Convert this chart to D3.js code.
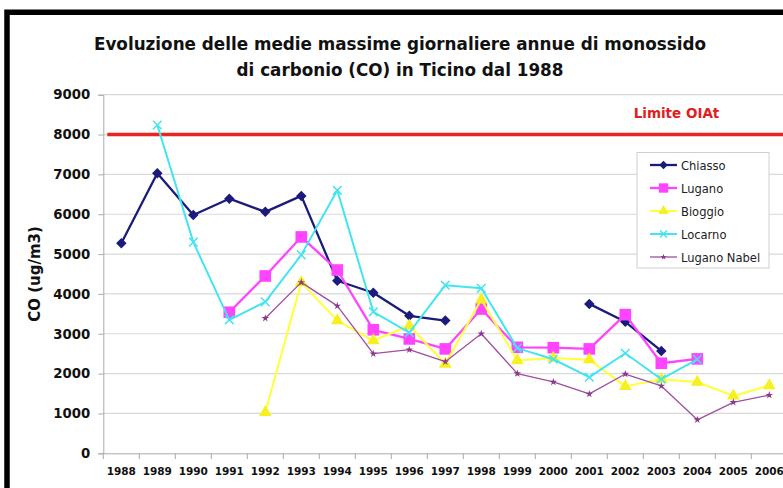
<!DOCTYPE html>
<html><head><meta charset="utf-8">
<script src="https://cdn.jsdelivr.net/npm/d3@7"></script>
<style>body{margin:0;background:#fff}svg{display:block}</style>
</head><body>
<script>
const years = [1988,1989,1990,1991,1992,1993,1994,1995,1996,1997,1998,1999,2000,2001,2002,2003,2004,2005,2006];
const chiasso     = [5270,7030,5980,6390,6060,6460,4330,4030,3450,3330,null,null,null,3750,3300,2570,null,null,null];
const lugano      = [null,null,null,3540,4450,5430,4600,3100,2870,2620,3620,2660,2650,2620,3480,2260,2370,null,null];
const bioggio     = [null,null,null,null,1030,4290,3330,2830,3200,2240,3860,2330,2390,2350,1680,1860,1790,1440,1700];
const locarno     = [null,8240,5300,3350,3800,4980,6600,3550,3030,4220,4140,2640,2360,1910,2510,1860,2360,null,null];
const luganoNabel = [null,null,null,null,3390,4290,3700,2500,2600,2300,3000,2000,1790,1490,1990,1690,840,1280,1460];
const yTicks = [0,1000,2000,3000,4000,5000,6000,7000,8000,9000];
const limite = 8000;
const titleLines = ["Evoluzione delle medie massime giornaliere annue di monossido","di carbonio (CO) in Ticino dal 1988"];

const W=783,H=488;
const svg=d3.select("body").append("svg").attr("width",W).attr("height",H);
const font="'DejaVu Sans', sans-serif";
const fontC="'DejaVu Sans Condensed', 'DejaVu Sans', sans-serif";

const x=d3.scaleBand().domain(years).range([103.3,787.3]).padding(0);
const y=d3.scaleLinear().domain([0,9000]).range([453.3,94.7]);
const cx=d=>x(d)+x.bandwidth()/2;

// frame
svg.append("path").attr("d",`M7,${H+5}V12.3H${W+5}`).attr("fill","none").attr("stroke","#000").attr("stroke-width",5.5);

// title
svg.append("g").selectAll("text").data(titleLines).join("text")
  .attr("x",400).attr("y",(d,i)=>50+i*26).attr("text-anchor","middle")
  .attr("font-family",font).attr("font-weight","bold").attr("font-size",16.8).attr("fill","#111")
  .text(d=>d);

// gridlines
svg.append("g").selectAll("line").data(yTicks.filter(d=>d>0)).join("line")
  .attr("x1",103.3).attr("x2",W).attr("y1",d=>y(d)).attr("y2",d=>y(d))
  .attr("stroke","#d9d9d9").attr("stroke-width",1.2);

// y axis
const ya=svg.append("g").attr("transform","translate(103.3,0)").call(d3.axisLeft(y).tickValues(yTicks).tickSize(5).tickPadding(8).tickFormat(d3.format("d")));
ya.select(".domain").attr("stroke","#aaa");
ya.selectAll(".tick line").attr("stroke","#aaa");
ya.selectAll("text").attr("font-family",font).attr("font-weight","bold").attr("font-size",13.3).attr("fill","#111");

// x axis
const xa=svg.append("g").attr("transform","translate(0,453.3)").call(d3.axisBottom(x).tickSize(0).tickPadding(14));
xa.select(".domain").attr("stroke","#aaa");
xa.selectAll("text").attr("font-family",font).attr("font-weight","bold").attr("font-size",10.5).attr("fill","#111");
svg.append("g").selectAll("line").data(years).join("line")
  .attr("x1",d=>x(d)).attr("x2",d=>x(d)).attr("y1",453.3).attr("y2",459).attr("stroke","#aaa");

// y title
svg.append("text").attr("transform","translate(39.5,274) rotate(-90)").attr("text-anchor","middle")
  .attr("font-family",font).attr("font-weight","bold").attr("font-size",15).attr("fill","#111").text("CO (ug/m3)");

// limit line
svg.append("line").attr("x1",x(years[0])+4).attr("x2",W).attr("y1",y(limite)).attr("y2",y(limite))
  .attr("stroke","#e8251e").attr("stroke-width",3.5);
svg.append("text").attr("x",676.5).attr("y",118).attr("text-anchor","middle")
  .attr("font-family",font).attr("font-weight","bold").attr("font-size",13.5).attr("fill","#e02020").text("Limite OIAt");

const series=[
  {name:"Chiasso",values:chiasso,color:"#1b1b7c",w:2.3,sym:d3.symbolSquare,rot:45,size:55,mcol:"#1b1b7c"},
  {name:"Lugano",values:lugano,color:"#ff44ff",w:2.3,sym:d3.symbolSquare,rot:0,size:135,mcol:"#ff44ff"},
  {name:"Bioggio",values:bioggio,color:"#ffff3a",w:2,sym:d3.symbolTriangle,rot:0,size:70,mcol:"#f6f020"},
  {name:"Locarno",values:locarno,color:"#44e4f0",w:2,sym:d3.symbolX,rot:0,size:50,mcol:"#44e4f0"},
  {name:"Lugano Nabel",values:luganoNabel,color:"#a04ea0",w:1.3,sym:d3.symbolStar,rot:0,size:18,mcol:"#8a3a8a"}
];

const line=d3.line().defined(d=>d.v!=null).x(d=>cx(d.yr)).y(d=>y(d.v));
const gS=svg.append("g");
series.forEach(s=>{
  const pts=years.map((yr,i)=>({yr,v:s.values[i]}));
  gS.append("path").datum(pts).attr("d",line).attr("fill","none").attr("stroke",s.color).attr("stroke-width",s.w).attr("stroke-linejoin","round");
  const isX=s.sym===d3.symbolX;
  gS.append("g").selectAll("path").data(pts.filter(d=>d.v!=null)).join("path")
    .attr("transform",d=>`translate(${cx(d.yr)},${y(d.v)}) rotate(${s.rot})`)
    .attr("d",d3.symbol(s.sym,s.size))
    .attr("fill",isX?"none":s.mcol).attr("stroke",isX?s.mcol:"none").attr("stroke-width",isX?1.5:0);
});

// legend
const lg=svg.append("g");
lg.append("rect").attr("x",637).attr("y",152.5).attr("width",132).attr("height",115.5)
  .attr("fill","#fff").attr("stroke","#d0d0d0").attr("stroke-width",1);
series.forEach((s,i)=>{
  const ly=165+i*23;
  lg.append("line").attr("x1",650).attr("x2",677).attr("y1",ly).attr("y2",ly).attr("stroke",s.color).attr("stroke-width",s.w);
  const isX=s.sym===d3.symbolX;
  lg.append("path").attr("transform",`translate(663.5,${ly}) rotate(${s.rot})`).attr("d",d3.symbol(s.sym,s.size*0.65))
    .attr("fill",isX?"none":s.mcol).attr("stroke",isX?s.mcol:"none").attr("stroke-width",isX?1.5:0);
  lg.append("text").attr("x",681).attr("y",ly+4.5).attr("font-family",fontC).attr("font-size",12.8).attr("fill","#222").text(s.name);
});
</script>
</body></html>
